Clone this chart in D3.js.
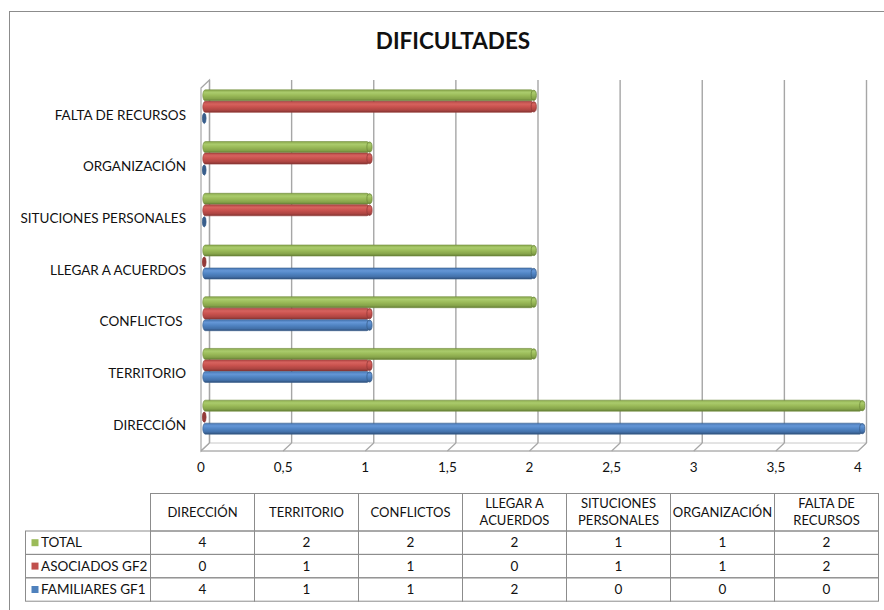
<!DOCTYPE html>
<html>
<head>
<meta charset="utf-8">
<script src="https://cdn.jsdelivr.net/npm/d3@7"></script>
<style>
    body { margin: 0; background: #fff; }
    text { font-family: Lato, "DejaVu Sans Condensed", sans-serif; fill: #111; }
</style>
</head>
<body>
<svg class="chart" width="884" height="610"></svg>
<script>
// chart values
var categories = ['DIRECCIÓN', 'TERRITORIO', 'CONFLICTOS ', 'LLEGAR A ACUERDOS', 'SITUCIONES PERSONALES', 'ORGANIZACIÓN', 'FALTA DE RECURSOS'];
var tableHeaders = [['DIRECCIÓN'], ['TERRITORIO'], ['CONFLICTOS'], ['LLEGAR A', 'ACUERDOS'], ['SITUCIONES', 'PERSONALES'], ['ORGANIZACIÓN'], ['FALTA DE', 'RECURSOS']];
var seriesNames = ['TOTAL', 'ASOCIADOS GF2', 'FAMILIARES GF1'];
var total = [4, 2, 2, 2, 1, 1, 2];
var asociados = [0, 1, 1, 0, 1, 1, 2];
var familiares = [4, 1, 1, 2, 0, 0, 0];
var xTicks = [0, 0.5, 1, 1.5, 2, 2.5, 3, 3.5, 4];

var seriesValues = [total, asociados, familiares];
var colors = ['#9bbb59', '#c0504d', '#4f81bd'];
var shades = [
    ['#8cab4e', '#aacb6c', '#9bbb59', '#86a44a', '#647e35'],
    ['#b84b48', '#d6625e', '#c9524e', '#ad4542', '#823331'],
    ['#4978b4', '#6496d6', '#5185c4', '#4371aa', '#304f7a']
];
var rims = ['#6f8a3a', '#933a38', '#385e8c'];

var svg = d3.select('.chart');

svg.append('rect')
    .attr('width', 884).attr('height', 610)
    .attr('fill', '#fff');

// outer chart border (runs off the right and bottom of the picture)
svg.append('rect')
    .attr('x', 9.5).attr('y', 11.5)
    .attr('width', 1000).attr('height', 1000)
    .attr('fill', 'none')
    .attr('stroke', '#8c8c8c')
    .attr('stroke-width', 1);

svg.append('text')
    .attr('x', 453).attr('y', 49)
    .attr('text-anchor', 'middle')
    .style('font-size', '22.5px')
    .style('font-weight', 'bold')
    .text('DIFICULTADES');


// 3D PLOT FRAME //
var depthX = 8.5;
var depthY = 8;
var wallTop = 80;
var floorBack = 443;

var xBack = d3.scaleLinear().domain([0, 4]).range([209.5, 866.5]);
var xFront = d3.scaleLinear().domain([0, 4]).range([209.5 - depthX, 866.5 - depthX]);
var xBar = d3.scaleLinear().domain([0, 4]).range([209.5 - depthX / 2, 866.5 - depthX / 2]);

var y = d3.scaleBand()
    .domain(categories)
    .range([451, 89]);

var ySeries = d3.scaleBand()
    .domain(seriesNames)
    .range([-21.25, 13.25]);

var barHeight = 11;
var gridColor = '#a6a6a6';

var frame = svg.append('g');

// left wall
frame.append('polygon')
    .attr('points', [
        [xFront(0), wallTop + depthY],
        [xBack(0), wallTop],
        [xBack(0), floorBack],
        [xFront(0), floorBack + depthY]
    ].join(' '))
    .attr('fill', '#fff')
    .attr('stroke', gridColor)
    .attr('stroke-width', 1.2);

// floor
frame.append('polygon')
    .attr('points', [
        [xFront(0), floorBack + depthY],
        [xBack(0), floorBack],
        [xBack(4), floorBack],
        [xFront(4), floorBack + depthY]
    ].join(' '))
    .attr('fill', '#fff')
    .attr('stroke', '#c8c8c8')
    .attr('stroke-width', 1);

frame.append('line')
    .attr('x1', xFront(0)).attr('x2', xFront(4))
    .attr('y1', floorBack + depthY).attr('y2', floorBack + depthY)
    .attr('stroke', gridColor)
    .attr('stroke-width', 1.2);

// gridlines on the back wall
frame.selectAll('.grid')
    .data(xTicks)
    .enter()
    .append('line')
    .classed('grid', true)
    .attr('x1', d => xBack(d)).attr('x2', d => xBack(d))
    .attr('y1', wallTop).attr('y2', floorBack)
    .attr('stroke', gridColor)
    .attr('stroke-width', 1.4);

// slanted gridlines across the floor
frame.selectAll('.floorTick')
    .data(xTicks)
    .enter()
    .append('line')
    .classed('floorTick', true)
    .attr('x1', d => xBack(d)).attr('x2', d => xFront(d))
    .attr('y1', floorBack).attr('y2', floorBack + depthY)
    .attr('stroke', gridColor)
    .attr('stroke-width', 1.2);


// CYLINDER BARS //
var defs = svg.append('defs');

seriesNames.forEach((s, i) => {
    var grad = defs.append('linearGradient')
        .attr('id', 'cyl' + i)
        .attr('x1', 0).attr('y1', 0)
        .attr('x2', 0).attr('y2', 1);
    [0, 0.25, 0.5, 0.8, 1].forEach((o, j) => {
        grad.append('stop')
            .attr('offset', o)
            .attr('stop-color', shades[i][j]);
    });
});

var bars = [];
seriesNames.forEach((s, i) => {
    categories.forEach((c, j) => {
        bars.push({series: s, index: i, category: c, value: seriesValues[i][j]});
    });
});

var barY = d => y(d.category) + y.bandwidth() / 2 - 4 + ySeries(d.series) + ySeries.bandwidth() / 2;

var barGroups = svg.append('g')
    .selectAll('g')
    .data(bars)
    .enter()
    .append('g');

barGroups.filter(d => d.value > 0)
    .append('rect')
    .attr('x', d => xBar(0) - 2.5)
    .attr('y', d => barY(d) - barHeight / 2)
    .attr('width', d => xBar(d.value) - xBar(0) + 2.5)
    .attr('height', barHeight)
    .attr('rx', 2.5).attr('ry', barHeight / 2)
    .attr('fill', d => `url(#cyl${d.index})`)
    .attr('stroke', d => rims[d.index])
    .attr('stroke-width', 0.6);

// end cap (for zero values, the only thing visible)
barGroups.append('ellipse')
    .attr('cx', d => xBar(d.value) - (d.value > 0 ? 0 : 1))
    .attr('cy', d => barY(d))
    .attr('rx', d => d.value > 0 ? 2.6 : 1.8)
    .attr('ry', barHeight / 2 - 0.4)
    .attr('fill', d => d.value > 0 ? `url(#cyl${d.index})` : rims[d.index])
    .attr('stroke', d => rims[d.index])
    .attr('stroke-width', 0.8);


// AXIS LABELS //
svg.append('g')
    .selectAll('text')
    .data(categories)
    .enter()
    .append('text')
    .attr('x', 186)
    .attr('y', d => y(d) + y.bandwidth() / 2)
    .attr('dy', '0.35em')
    .attr('text-anchor', 'end')
    .style('white-space', 'pre')
    .style('font-size', '13.5px')
    .text(d => d);

var fmt = d => d3.format('')(d).replace('.', ',');

svg.append('g')
    .selectAll('text')
    .data(xTicks)
    .enter()
    .append('text')
    .attr('x', d => xFront(d))
    .attr('y', 467)
    .attr('dy', '0.35em')
    .attr('text-anchor', 'middle')
    .style('font-size', '13.5px')
    .text(fmt);


// DATA TABLE //
var tableLeft = 25.5;
var colStart = 150.5;
var colWidth = 104;
var headTop = 493.5;
var headBottom = 531;
var rowHeight = 23.4;
var tableColor = '#8c8c8c';

var table = svg.append('g');

// header cells
table.selectAll('.headCell')
    .data(tableHeaders)
    .enter()
    .append('rect')
    .classed('headCell', true)
    .attr('x', (d, i) => colStart + i * colWidth)
    .attr('y', headTop)
    .attr('width', colWidth)
    .attr('height', headBottom - headTop)
    .attr('fill', 'none')
    .attr('stroke', tableColor);

table.selectAll('.headText')
    .data(tableHeaders)
    .enter()
    .append('text')
    .classed('headText', true)
    .attr('text-anchor', 'middle')
    .attr('transform', (d, i) => `translate(${colStart + i * colWidth + colWidth / 2}, ${(headTop + headBottom) / 2})`)
    .style('font-size', '13px')
    .selectAll('tspan')
    .data(d => d.map(line => ({line: line, n: d.length})))
    .enter()
    .append('tspan')
    .attr('x', 0)
    .attr('y', (d, i) => (i - (d.n - 1) / 2) * 17)
    .attr('dy', '0.35em')
    .text(d => d.line);

var rows = table.selectAll('.row')
    .data(seriesNames)
    .enter()
    .append('g')
    .classed('row', true)
    .attr('transform', (d, i) => `translate(0, ${headBottom + i * rowHeight})`);

rows.append('rect')
    .attr('x', tableLeft)
    .attr('width', colStart - tableLeft)
    .attr('height', rowHeight)
    .attr('fill', 'none')
    .attr('stroke', tableColor);

rows.append('rect')
    .attr('x', 31.5)
    .attr('y', rowHeight / 2 - 3.5)
    .attr('width', 7).attr('height', 7)
    .attr('fill', (d, i) => colors[i]);

rows.append('text')
    .attr('x', 41)
    .attr('y', rowHeight / 2)
    .attr('dy', '0.35em')
    .style('font-size', '13.5px')
    .text(d => d);

rows.each(function(s, i) {
    var row = d3.select(this);
    row.selectAll('.cell')
        .data(seriesValues[i])
        .enter()
        .append('rect')
        .classed('cell', true)
        .attr('x', (d, j) => colStart + j * colWidth)
        .attr('width', colWidth)
        .attr('height', rowHeight)
        .attr('fill', 'none')
        .attr('stroke', tableColor);
    row.selectAll('.val')
        .data(seriesValues[i])
        .enter()
        .append('text')
        .classed('val', true)
        .attr('x', (d, j) => colStart + j * colWidth + colWidth / 2)
        .attr('y', rowHeight / 2)
        .attr('dy', '0.35em')
        .attr('text-anchor', 'middle')
        .style('font-size', '13.5px')
        .text(d => d);
});
</script>
</body>
</html>
